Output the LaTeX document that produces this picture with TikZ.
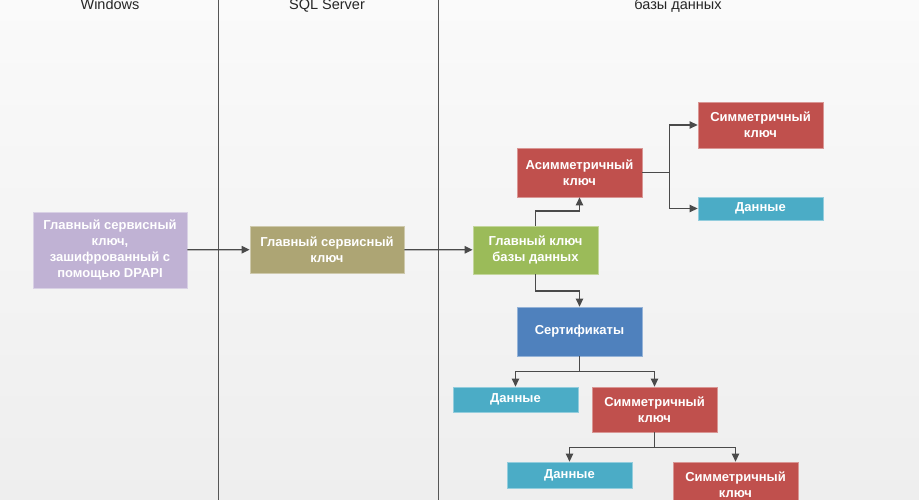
\documentclass[tikz,border=0pt]{standalone}
\usepackage{xcolor}
\usepackage{fontspec}
\setmainfont{Liberation Sans}
\usepackage{tikz}
\usetikzlibrary{shapes,arrows.meta,positioning}

\definecolor{bgtop}{HTML}{FAFAFA}
\definecolor{bgbot}{HTML}{EEEEEE}
\definecolor{lanegray}{HTML}{555555}
\definecolor{linkgray}{HTML}{4A4A4A}
\definecolor{dpapipurple}{HTML}{C0B2D4}
\definecolor{smkolive}{HTML}{ADA574}
\definecolor{dmkgreen}{HTML}{9BBB59}
\definecolor{keyred}{HTML}{C0504D}
\definecolor{certblue}{HTML}{4F81BD}
\definecolor{datacyan}{HTML}{4BACC6}

\tikzset{
  keybox/.style={draw=#1!60!white, fill=#1, text=white, line width=0.8pt,
    font=\fontsize{13}{16}\selectfont\bfseries, align=center,
    rectangle, inner sep=0pt},
  lanehead/.style={anchor=base, text=black!85, font=\fontsize{14.5}{17}\selectfont},
  link/.style={->, draw=linkgray, line width=1.2pt}
}

\begin{document}
\begin{tikzpicture}[x=1pt, y=-1pt, >={Triangle[length=8pt,width=7.5pt]}]
\useasboundingbox (0,0) rectangle (919,500);
\clip (0,0) rectangle (919,500);
\shade[top color=bgtop, bottom color=bgbot] (0,0) rectangle (919,500);

% lanes
\draw[lanegray, line width=0.9pt] (218,0) -- (218,500);
\draw[lanegray, line width=0.9pt] (438,0) -- (438,500);
\node[lanehead] (winhead) at (110,10) {Windows};
\node[lanehead] (sqlhead) at (327,10) {SQL Server};
\node[lanehead] (dbhead) at (678,10) {базы данных};

% keys
\node[keybox=dpapipurple, minimum width=154pt, minimum height=76pt] (dpapi) at (110,250) {
    Главный сервисный\\ ключ,\\ зашифрованный с\\ помощью DPAPI};
\node[keybox=smkolive, minimum width=154pt, minimum height=47pt] (smk) at (327,249.5) {
    Главный сервисный\\ ключ};
\node[keybox=dmkgreen, minimum width=125pt, minimum height=48pt] (dmk) at (535.5,250) {
    Главный ключ\\ базы данных};
\node[keybox=keyred, minimum width=125pt, minimum height=49pt] (asym) at (579.5,172.5) {
    Асимметричный\\ ключ};
\node[keybox=keyred, minimum width=125pt, minimum height=46pt] (symA) at (760.5,125) {
    Симметричный\\ ключ};
\node[keybox=datacyan, minimum width=125pt, minimum height=23pt] (dataA) at (760.5,208.5) {Данные};
\node[keybox=certblue, minimum width=125pt, minimum height=49pt] (cert) at (579.5,331.5) {Сертификаты};
\node[keybox=datacyan, minimum width=125pt, minimum height=25pt] (dataB) at (515.5,399.5) {Данные};
\node[keybox=keyred, minimum width=125pt, minimum height=45pt] (symB) at (654.5,409.5) {
    Симметричный\\ ключ};
\node[keybox=datacyan, minimum width=125pt, minimum height=26pt] (dataC) at (569.5,475) {Данные};
\node[keybox=keyred, minimum width=125pt, minimum height=46pt] (symC) at (735.5,485) {
    Симметричный\\ ключ};

% connectors
\draw[link] (dpapi) -- (smk);
\draw[link] (smk) -- (dmk);
\draw[link] (dmk.north) -- ++(0,-14.5) -| (asym.south);
\draw[link] (dmk.south) -- ++(0,16.5) -| (cert.north);
\draw[link] (asym.east) -- ++(27,0) |- (symA.west);
\draw[link] (asym.east) -- ++(27,0) |- (dataA.west);
\draw[link] (cert.south) -- ++(0,15) -| (dataB.north);
\draw[link] (cert.south) -- ++(0,15) -| (symB.north);
\draw[link] (symB.south) -- ++(0,15) -| (dataC.north);
\draw[link] (symB.south) -- ++(0,15) -| (symC.north);
\end{tikzpicture}
\end{document}
